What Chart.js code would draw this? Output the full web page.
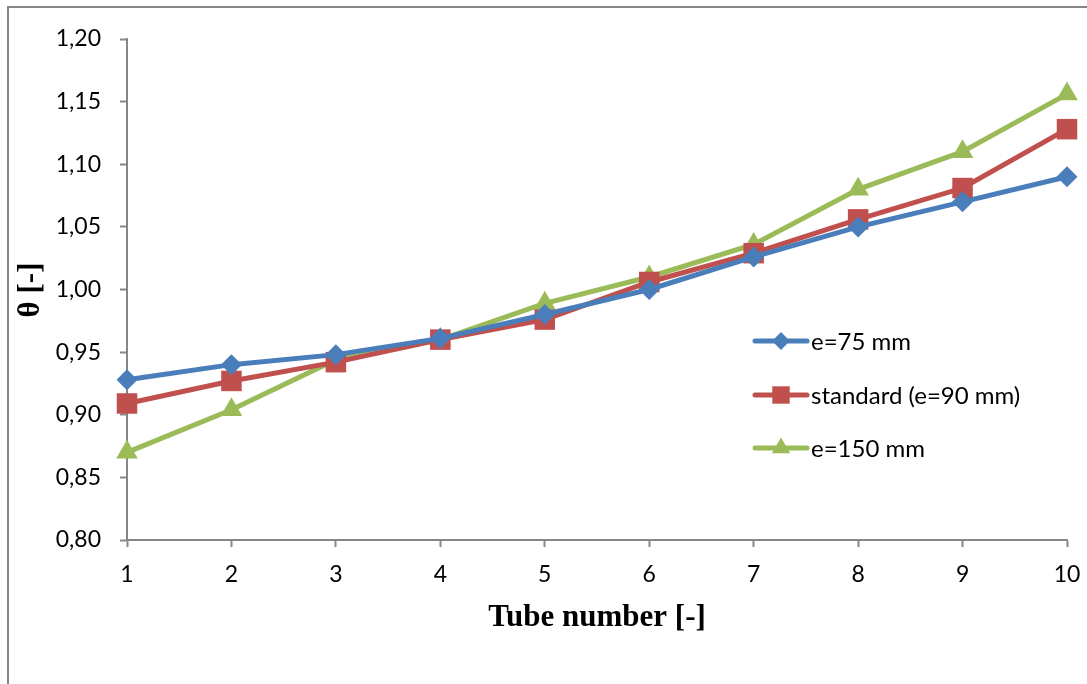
<!DOCTYPE html>
<html>
<head>
<meta charset="utf-8">
<script src="https://cdn.jsdelivr.net/npm/chart.js@4/dist/chart.umd.min.js"></script>
<style>
  html, body { margin: 0; padding: 0; background: #fff; }
  #wrap { width: 1087px; height: 684px; position: relative; }
</style>
</head>
<body>
<div id="wrap"><canvas id="thetaChart"></canvas></div>
<script>
var tubes = [1, 2, 3, 4, 5, 6, 7, 8, 9, 10];
var e75 = [0.928, 0.940, 0.948, 0.961, 0.980, 1.000, 1.026, 1.050, 1.070, 1.090];
var standard90 = [0.909, 0.927, 0.942, 0.960, 0.976, 1.006, 1.029, 1.056, 1.081, 1.128];
var e150 = [0.870, 0.904, 0.944, 0.960, 0.989, 1.010, 1.036, 1.080, 1.110, 1.156];
var seriesNames = ['e=75 mm', 'standard (e=90 mm)', 'e=150 mm'];
var yTicks = [0.80, 0.85, 0.90, 0.95, 1.00, 1.05, 1.10, 1.15, 1.20];

var axisGrey = '#868686';
var tickFont = { family: 'Lato, "Liberation Sans", sans-serif', size: 23 };

function toPoints(values) {
  return values.map(function (v, i) {
    return { x: tubes[i], y: v };
  });
}

function makeDataset(label, values, color, shape, radius) {
  return {
    label: label,
    data: toPoints(values),
    borderColor: color,
    backgroundColor: color,
    borderWidth: 5,
    pointStyle: shape,
    pointRadius: radius,
    pointHoverRadius: radius,
    pointBorderWidth: 0,
    tension: 0,
  };
}

// frame, axis titles and the legend inside the plot
var decorPlugin = {
  id: 'decor',
  beforeDraw: function (chart) {
    var ctx = chart.ctx;
    ctx.save();
    ctx.strokeStyle = axisGrey;
    ctx.lineWidth = 2;
    ctx.beginPath();
    ctx.moveTo(8, 700);
    ctx.lineTo(8, 7);
    ctx.lineTo(1100, 7);
    ctx.stroke();
    ctx.restore();
  },
  afterDraw: function (chart) {
    var ctx = chart.ctx;
    ctx.save();
    ctx.fillStyle = '#000';
    ctx.font = 'bold 31px "Liberation Serif", "DejaVu Serif", serif';
    ctx.textAlign = 'center';
    ctx.textBaseline = 'middle';
    ctx.fillText('Tube number [-]', 597, 618);
    ctx.translate(31, 290);
    ctx.rotate(-Math.PI / 2);
    ctx.fillText('\u03b8 [-]', 0, 0);
    ctx.restore();

    ctx.save();
    var rows = [341, 395, 448];
    chart.data.datasets.forEach(function (ds, i) {
      var y = rows[i];
      ctx.strokeStyle = ds.borderColor;
      ctx.lineWidth = 5;
      ctx.lineCap = 'round';
      ctx.beginPath();
      ctx.moveTo(755, y);
      ctx.lineTo(807, y);
      ctx.stroke();
      ctx.fillStyle = ds.backgroundColor;
      Chart.helpers.drawPoint(ctx, {
        pointStyle: ds.pointStyle,
        radius: ds.pointRadius * 0.85,
        rotation: 0,
        borderWidth: 0
      }, 781, y);
      ctx.fillStyle = '#000';
      ctx.font = '24px Lato, "Liberation Sans", sans-serif';
      ctx.textAlign = 'left';
      ctx.textBaseline = 'middle';
      ctx.fillText(ds.label, 811, y + 1);
    });
    ctx.restore();
  }
};

var ctx = document.getElementById('thetaChart');

new Chart(ctx, {
  type: 'line',
  data: {
    datasets: [
      makeDataset(seriesNames[0], e75, '#4A7EBB', 'rectRot', 10.5),
      makeDataset(seriesNames[1], standard90, '#C0504D', 'rect', 14.5),
      makeDataset(seriesNames[2], e150, '#9BBB59', 'triangle', 12.5),
    ],
  },
  options: {
    responsive: true,
    maintainAspectRatio: false,
    animation: false,
    clip: false,
    layout: {
      padding: { left: 0, top: 39, right: 20, bottom: 0 }
    },
    plugins: {
      legend: { display: false },
      tooltip: { enabled: false },
    },
    scales: {
      x: {
        type: 'linear',
        min: 1,
        max: 10,
        afterFit: function (scale) {
          scale.height = 144;
          scale.paddingLeft = 0;
          scale.paddingRight = 0;
        },
        afterBuildTicks: function (scale) {
          scale.ticks = tubes.map(function (t) { return { value: t }; });
        },
        border: { color: axisGrey, width: 2 },
        grid: {
          drawOnChartArea: false,
          drawTicks: true,
          tickLength: 7,
          tickColor: axisGrey,
          tickWidth: 2,
        },
        ticks: {
          color: '#000',
          font: tickFont,
          padding: 14,
          maxRotation: 0,
        },
      },
      y: {
        min: 0.80,
        max: 1.20,
        afterFit: function (scale) {
          scale.width = 127;
          scale.paddingTop = 0;
          scale.paddingBottom = 0;
        },
        afterBuildTicks: function (scale) {
          scale.ticks = yTicks.map(function (t) { return { value: t }; });
        },
        border: { color: axisGrey, width: 2 },
        grid: {
          drawOnChartArea: false,
          drawTicks: true,
          tickLength: 7,
          tickColor: axisGrey,
          tickWidth: 2,
        },
        ticks: {
          color: '#000',
          font: tickFont,
          padding: 19,
          callback: function (value) {
            return value.toFixed(2).replace('.', ',');
          },
        },
      },
    },
  },
  plugins: [decorPlugin],
});
</script>
</body>
</html>
